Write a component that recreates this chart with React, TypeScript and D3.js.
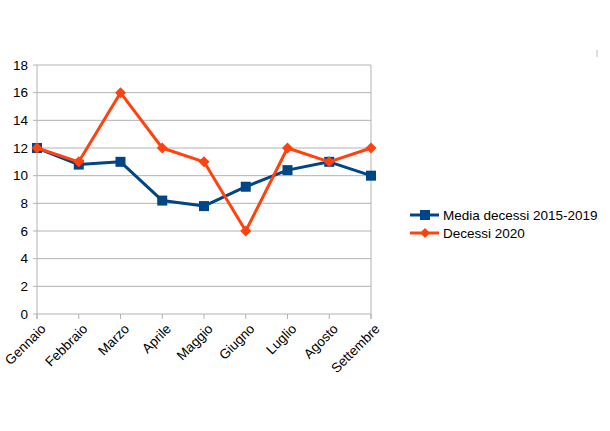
import React from "react";
import * as d3 from "d3";

const months = ["Gennaio", "Febbraio", "Marzo", "Aprile", "Maggio", "Giugno", "Luglio", "Agosto", "Settembre"];
const media = [12, 10.8, 11, 8.2, 7.8, 9.2, 10.4, 11, 10];
const decessi2020 = [12, 11, 16, 12, 11, 6, 12, 11, 12];
const yTicks = [0, 2, 4, 6, 8, 10, 12, 14, 16, 18];
const seriesNames = ["Media decessi 2015-2019", "Decessi 2020"];

const W = 610, H = 431;
const left = 37, right = 371, top = 65, bottom = 314;
const BLUE = "#004586", RED = "#ff420e";
const FONT = "'Liberation Sans', Arial, sans-serif";

export default function App() {
  const x = d3.scalePoint<string>().domain(months).range([left, right]);
  const y = d3.scaleLinear().domain([0, 18]).range([bottom, top]);
  const line = d3.line<number>().x((_, i) => x(months[i])!).y((d) => y(d));
  const diamond = (cx: number, cy: number, r: number) => `M${cx},${cy - r}L${cx + r},${cy}L${cx},${cy + r}L${cx - r},${cy}Z`;

  return (
    <svg width={W} height={H} style={{ position: "absolute", left: 0, top: 0, background: "#fff" }} fontFamily={FONT}>
      <rect width={W} height={H} fill="#fff" />
      {yTicks.map((t) => (
        <g key={t}>
          <line x1={left - 4} x2={right} y1={y(t)} y2={y(t)} stroke="#b3b3b3" strokeWidth={1} />
          <text x={left - 9} y={y(t)} dy="0.35em" textAnchor="end" fontSize={13.5} fill="#000">{t}</text>
        </g>
      ))}
      <line x1={left} x2={left} y1={top} y2={bottom + 5} stroke="#b3b3b3" />
      <line x1={right} x2={right} y1={top} y2={bottom + 5} stroke="#b3b3b3" />
      {months.map((m) => (
        <g key={m}>
          <line x1={x(m)} x2={x(m)} y1={bottom} y2={bottom + 5} stroke="#b3b3b3" />
          <text transform={`translate(${x(m)! + 3},${bottom + 9}) rotate(-45)`} textAnchor="end" dy="0.7em" fontSize={13.5} fill="#000">{m}</text>
        </g>
      ))}
      <path d={line(media)!} fill="none" stroke={BLUE} strokeWidth={3} strokeLinejoin="round" />
      {media.map((v, i) => (
        <rect key={i} x={x(months[i])! - 5} y={y(v) - 5} width={10} height={10} fill={BLUE} />
      ))}
      <path d={line(decessi2020)!} fill="none" stroke={RED} strokeWidth={3} strokeLinejoin="round" />
      {decessi2020.map((v, i) => (
        <path key={i} d={diamond(x(months[i])!, y(v), 5.5)} fill={RED} />
      ))}
      <g>
        <line x1={410} x2={439} y1={215} y2={215} stroke={BLUE} strokeWidth={3} />
        <rect x={420} y={210} width={10} height={10} fill={BLUE} />
        <text x={443} y={215} dy="0.35em" fontSize={13.5} fill="#000">{seriesNames[0]}</text>
        <line x1={410} x2={439} y1={233} y2={233} stroke={RED} strokeWidth={3} />
        <path d={diamond(425, 233, 5)} fill={RED} />
        <text x={443} y={233} dy="0.35em" fontSize={13.5} fill="#000">{seriesNames[1]}</text>
      </g>
      <line x1={597} x2={597} y1={50} y2={57} stroke="#bbb" strokeWidth={1} />
    </svg>
  );
}
